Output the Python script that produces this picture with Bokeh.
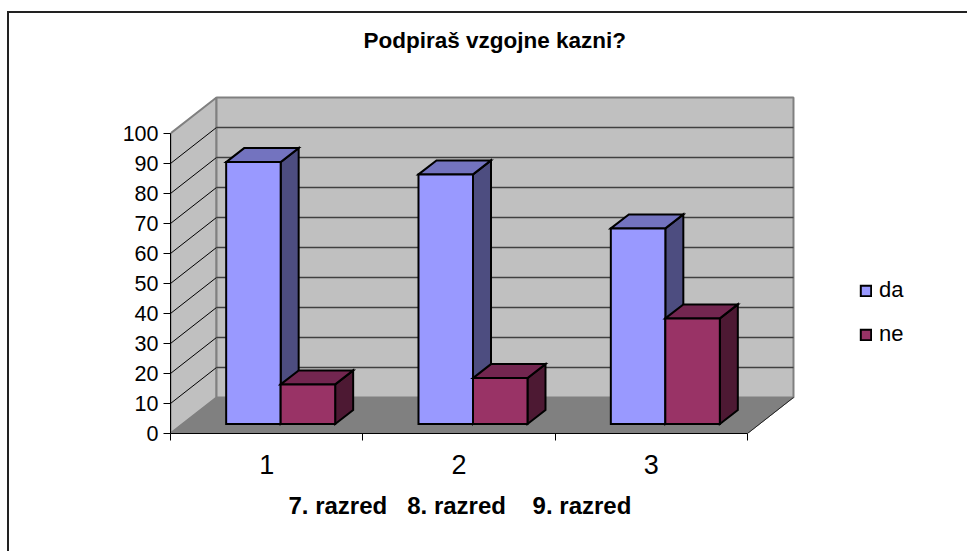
from bokeh.plotting import figure
from bokeh.models import FixedTicker, Legend, LegendItem, LinearAxis, Title
from bokeh.embed import file_html
from bokeh.resources import INLINE

title_text = "Podpiraš vzgojne kazni?"
x_title = "7. razred\u00a0\u00a0\u00a08. razred\u00a0\u00a0\u00a0\u00a09. razred"
categories = [1, 2, 3]
da = [87.3, 83.2, 65.2]
ne = [13.2, 15.3, 35.2]
y_ticks = list(range(0, 101, 10))
FONT = "Liberation Sans"

# layout (page pixels); the figure's origin sits inside its CSS border
OX, OY = 9, 13
W, H = 969 - OX, 553 - OY
PX_L, PX_R, PX_T, PX_B = 170, 969, 60, 433
CAT_PX = 192.33
VAL_PX = 3.0
def cx(px): return (px - 170) / CAT_PX + 0.5
def cw(px): return px / CAT_PX
def vh(px): return px / VAL_PX

WALL_DX, WALL_DY = cw(46), vh(36)
BAR_DX, BAR_DY = cw(18), vh(14)
BASE_DX, BASE_DY = cw(14), vh(9.5)
BAR_W = cw(54.5)

p = figure(width=W, height=H, output_backend="svg", toolbar_location=None,
           x_range=(cx(PX_L), cx(PX_R)), y_range=(0, vh(PX_B - PX_T)),
           min_border_left=PX_L - OX, min_border_right=0,
           min_border_top=PX_T - OY, min_border_bottom=OY + H - PX_B,
           x_axis_type=None, y_axis_type=None, background_fill_color="white",
           border_fill_color="white",
           styles={"border-left": "2px solid #222222", "border-top": "2px solid #222222",
                   "margin-left": "7px", "margin-top": "11px"})
p.grid.visible = False
p.outline_line_color = None

# walls and floor
x0, x1 = 0.5, 3.5
p.patch([x0, x0 + WALL_DX, x0 + WALL_DX, x0], [0, WALL_DY, 100 + WALL_DY, 100],
        fill_color="#c0c0c0", line_color="#808080", line_width=2)
p.patch([x0 + WALL_DX, x1 + WALL_DX, x1 + WALL_DX, x0 + WALL_DX],
        [WALL_DY, WALL_DY, 100 + WALL_DY, 100 + WALL_DY],
        fill_color="#c0c0c0", line_color="#808080", line_width=2)
p.patch([x0, x0 + WALL_DX, x1 + WALL_DX, x1], [0, WALL_DY, WALL_DY, 0],
        fill_color="#808080", line_color="#808080", line_width=1)
p.line([x1, x1 + WALL_DX], [0, WALL_DY], line_color="#222222", line_width=1)

# gridlines
grid = [t for t in y_ticks if 0 < t < 100]
p.multi_line([[x0, x0 + WALL_DX] for _ in grid], [[t, t + WALL_DY] for t in grid],
             line_color="black", line_width=1)
p.multi_line([[x0 + WALL_DX, x1 + WALL_DX] for _ in grid],
             [[t + WALL_DY, t + WALL_DY] for t in grid],
             line_color="#404040", line_width=1.5)

# bars
series = [("da", da, "#9999ff", "#7373bf", "#4d4d80", 0),
          ("ne", ne, "#993366", "#732650", "#4d1933", 1)]
front_renderers = {}
for i, cat in enumerate(categories):
    for name, vals, front, top, side, k in series:
        v = vals[i]
        left = cat + BASE_DX - BAR_W + k * BAR_W
        right = left + BAR_W
        base = BASE_DY
        ytop = base + v
        p.patch([right, right + BAR_DX, right + BAR_DX, right],
                [base, base + BAR_DY, ytop + BAR_DY, ytop],
                fill_color=side, line_color="black", line_width=2, line_join="miter")
        p.patch([left, left + BAR_DX, right + BAR_DX, right],
                [ytop, ytop + BAR_DY, ytop + BAR_DY, ytop],
                fill_color=top, line_color="black", line_width=2, line_join="miter")
        r = p.quad(left=left, right=right, bottom=base, top=ytop,
                   fill_color=front, line_color="black", line_width=2, line_join="miter")
        front_renderers.setdefault(name, r)

# axes
yaxis = LinearAxis(ticker=FixedTicker(ticks=y_ticks), bounds=(0, 100))
yaxis.major_label_text_font = FONT
yaxis.major_label_text_font_size = "21.5px"
yaxis.major_label_text_color = "black"
yaxis.major_label_standoff = 5
yaxis.major_tick_in = 0
yaxis.major_tick_out = 7
yaxis.minor_tick_out = 0
yaxis.minor_tick_in = 0
yaxis.axis_line_color = "black"
p.add_layout(yaxis, "left")

xaxis = LinearAxis(ticker=FixedTicker(ticks=categories, minor_ticks=[0.5, 1.5, 2.5, 3.5]),
                   bounds=(0.5, 3.5))
xaxis.major_label_text_font = FONT
xaxis.major_label_text_font_size = "27px"
xaxis.major_label_text_color = "black"
xaxis.major_label_standoff = 14
xaxis.major_tick_in = 0
xaxis.major_tick_out = 0
xaxis.minor_tick_in = 0
xaxis.minor_tick_out = 7
xaxis.axis_line_color = "black"
p.add_layout(xaxis, "below")

# title
p.title.text = title_text
p.title.text_font = FONT
p.title.text_font_size = "22.5px"
p.title.text_font_style = "bold"
p.title.text_color = "black"
p.title.align = "left"
p.title.offset = 363 - PX_L
p.title.standoff = 15

# x title
p.add_layout(Title(text=x_title, text_font=FONT, text_font_size="24px", text_font_style="bold",
                   text_color="black", align="left", offset=288 - PX_L, standoff=27), "below")

# legend
leg = Legend(items=[LegendItem(label=n, renderers=[front_renderers[n]]) for n in ("da", "ne")],
             location=(859 - PX_L, 86), orientation="vertical", border_line_color=None,
             background_fill_alpha=0, glyph_width=13, glyph_height=13, label_standoff=7,
             spacing=18, margin=0, padding=0, label_text_font=FONT,
             label_text_font_size="22px", label_text_color="black")
p.add_layout(leg, "center")

open("out.html", "w").write(file_html(p, INLINE))
